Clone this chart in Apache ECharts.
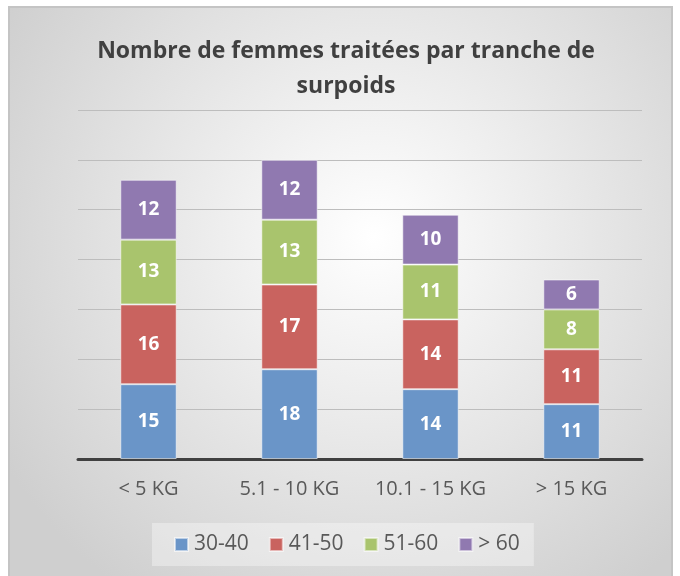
<!DOCTYPE html>
<html><head><meta charset="utf-8">
<script src="https://cdn.jsdelivr.net/npm/echarts@6/dist/echarts.min.js"></script>
<style>html,body{margin:0;padding:0;background:#fff}#c{width:680px;height:576px}</style>
</head><body><div id="c"></div>
<script>
const categories = ['< 5 KG', '5.1 - 10 KG', '10.1 - 15 KG', '> 15 KG'];
const seriesNames = ['30-40', '41-50', '51-60', '> 60'];
const s3040 = [15, 18, 14, 11];
const s4150 = [16, 17, 14, 11];
const s5160 = [13, 13, 11, 8];
const s60 = [12, 12, 10, 6];
const yTicks = [0, 10, 20, 30, 40, 50, 60, 70];

const colors = ['#6A95C8', '#C9635F', '#A9C46D', '#9079B0'];
const values = [s3040, s4150, s5160, s60];
const FONT = 'Open Sans';

const chart = echarts.init(document.getElementById('c'), null, {renderer: 'canvas'});
chart.setOption({
  animation: false,
  textStyle: {fontFamily: FONT},
  graphic: [{
    type: 'rect', z: -10, silent: true,
    shape: {x: 9, y: 7, width: 663, height: 575},
    style: {
      fill: {type: 'radial', x: 0.55, y: 0.4, r: 0.75,
        colorStops: [{offset: 0, color: '#ffffff'}, {offset: 1, color: '#cfcfcf'}]},
      stroke: '#c4c4c4', lineWidth: 2
    }
  }],
  title: {
    text: 'Nombre de femmes traitées par tranche de\nsurpoids',
    left: 341, top: 29, textAlign: 'center',
    textStyle: {fontFamily: FONT, fontWeight: 'bold', fontSize: 23, color: '#404040', lineHeight: 35}
  },
  legend: {
    data: seriesNames,
    left: 152, top: 523,
    padding: [11, 14, 11, 22],
    backgroundColor: 'rgba(255,255,255,0.35)',
    itemWidth: 13, itemHeight: 13, itemGap: 20,
    icon: 'rect',
    textStyle: {fontFamily: FONT, fontSize: 21, color: '#595959', padding: [0, 0, 0, 1]}
  },
  grid: {left: 78, right: 38, top: 110, bottom: 117},
  xAxis: {
    type: 'category', data: categories,
    axisLine: {lineStyle: {color: '#404040', width: 3}},
    axisTick: {show: false},
    axisLabel: {interval: 0, fontFamily: FONT, fontSize: 20, color: '#595959', margin: 20}
  },
  yAxis: {
    type: 'value', min: yTicks[0], max: yTicks[yTicks.length - 1], interval: 10,
    axisLabel: {show: false}, axisLine: {show: false}, axisTick: {show: false},
    splitLine: {lineStyle: {color: '#bdbdbd', width: 1.2}}
  },
  series: values.map((v, i) => ({
    name: seriesNames[i], type: 'bar', stack: 'total', data: v,
    barWidth: '40%',
    itemStyle: {color: colors[i], borderColor: 'rgba(255,255,255,0.55)', borderWidth: 1},
    label: {show: true, position: 'inside', color: '#ffffff', fontFamily: FONT, fontWeight: 'bold', fontSize: 19}
  }))
});
</script></body></html>
